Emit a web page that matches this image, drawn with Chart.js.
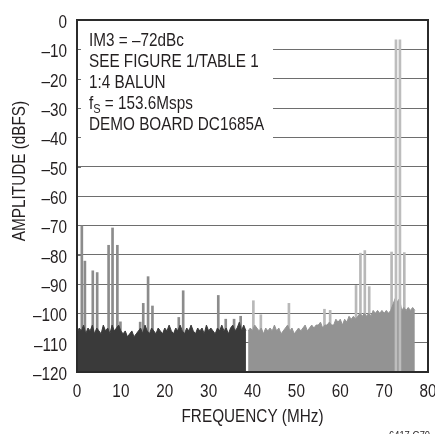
<!DOCTYPE html>
<html>
<head>
<meta charset="utf-8">
<script src="https://cdn.jsdelivr.net/npm/chart.js@4/dist/chart.umd.min.js"></script>
<style>
  html, body { margin: 0; padding: 0; background: #fff; }
  #wrap { position: relative; width: 435px; height: 434px; }
</style>
</head>
<body>
<div id="wrap"><canvas id="c" width="435" height="434"></canvas></div>
<script>
// ---- data ----
const NOISE_BIN_MHZ = 0.5;
const darkNoiseStartMHz = 0;     // first bin of the dark noise floor
const darkNoise = [
  -107,-105,-106,-104,-107,-105,-106,-104,-107,-105,
  -106,-107,-104,-106,-105,-107,-104,-106,-105,-104,
  -106,-107,-106,-108,-107,-106,-108,-107,-106,-105,
  -107,-104,-106,-107,-105,-106,-107,-105,-106,-107,
  -105,-106,-104,-106,-107,-105,-106,-104,-106,-107,
  -105,-106,-104,-106,-107,-105,-106,-105,-107,-104,
  -106,-105,-106,-107,-105,-106,-104,-106,-105,-107,
  -105,-104,-106,-105,-103,-106,-104,-106
];
const grayNoiseStartMHz = 39;
const grayNoise = [
  -106,-105,-106,-104,-105,-106,-105,-107,-105,-106,
  -105,-106,-104,-106,-105,-107,-106,-105,-104,-106,
  -105,-107,-106,-105,-106,-105,-104,-106,-105,-104,
  -105,-104,-104,-103,-105,-104,-104,-103,-104,-104,
  -102,-103,-102,-104,-102,-103,-101,-102,-101,-102,
  -101,-100,-101,-100,-101,-100,-101,-99,-100,-99,
  -100,-99,-100,-99,-100,-99,-97,-95,-96,-95,
  -99,-98,-99,-98,-99,-98,-99
];
const spurFreqMHz = [1.1,1.8,3.6,4.6,7.2,8.1,9.2,9.9,14.4,15.1,16.2,17.2,23.2,24.2,32.2,33.9,35.8,37.3,
                     40.2,41.9,48.3,56.4,57.7,63.6,64.6,65.6,66.6,71.7,74.6];
const spurLevelDBFS = [-70.2,-82.2,-85.5,-86.1,-76.8,-70.9,-76.8,-102.9,-103,-96.6,-87.5,-97.5,-101.4,-92.3,-93.9,-102,-102,-101,
                       -95.7,-100.5,-96.6,-98.6,-99,-90.5,-79.5,-78.6,-90.9,-79.1,-79.3];
const toneFreqMHz = [72.7, 73.6];
const toneLevelDBFS = [-6.8, -6.8];
const xTicks = [0,10,20,30,40,50,60,70,80];
const yTicks = [0,-10,-20,-30,-40,-50,-60,-70,-80,-90,-100,-110,-120];
const noteLines = ["IM3 = \u201372dBc", "SEE FIGURE 1/TABLE 1", "1:4 BALUN", "fS = 153.6Msps", "DEMO BOARD DC1685A"];
const xTitle = "FREQUENCY (MHz)";
const yTitle = "AMPLITUDE (dBFS)";
const figId = "6417 G70";

// ---- build ----
const FONT = "'Liberation Sans',Arial,sans-serif";
const NARROW = 0.85;     // Helvetica Narrow look
const INK = '#231f20';
const toXY = (start, arr) => arr.map((v, i) => ({ x: start + i * NOISE_BIN_MHZ, y: v }));
const pairs = (xs, ys) => xs.map((x, i) => ({ x: x, y: ys[i] }));
const dash = s => String(s).replace('-', '\u2013');

function narrowText(ctx, text, x, y, size, align) {
  ctx.save();
  ctx.translate(x, y);
  ctx.scale(NARROW, 1);
  ctx.font = size + 'px ' + FONT;
  ctx.textAlign = align || 'left';
  ctx.textBaseline = 'alphabetic';
  ctx.fillText(text, 0, 0);
  const w = ctx.measureText(text).width * NARROW;
  ctx.restore();
  return w;
}

const boxPlugin = {
  id: 'box',
  beforeDatasetsDraw(chart) {
    const { ctx, chartArea: a, scales: { y } } = chart;
    ctx.save();
    ctx.fillStyle = '#fff';
    ctx.fillRect(a.left + 1, a.top + 1, 273 - a.left - 1, y.getPixelForValue(-43) - a.top);
    ctx.strokeStyle = '#6e6e6e';
    ctx.lineWidth = 1;
    yTicks.forEach(v => {
      const py = Math.round(y.getPixelForValue(v)) + 0.5;
      ctx.beginPath(); ctx.moveTo(a.left, py); ctx.lineTo(a.left + 4, py); ctx.stroke();
    });
    ctx.fillStyle = INK;
    const x0 = 89, base0 = 46, step = 20.9;
    noteLines.forEach((t, i) => {
      const by = base0 + i * step;
      if (t.startsWith('fS')) {
        let cx = x0;
        cx += narrowText(ctx, 'f', cx, by, 18);
        cx += narrowText(ctx, 'S', cx, by + 4, 13);
        narrowText(ctx, t.slice(2), cx, by, 18);
      } else {
        narrowText(ctx, t, x0, by, 18);
      }
    });
    ctx.restore();
  },
  afterDatasetsDraw(chart) {
    const { ctx, chartArea: a } = chart;
    ctx.save();
    ctx.strokeStyle = '#2b2b2b';
    ctx.lineWidth = 2;
    ctx.strokeRect(a.left, a.top, a.right - a.left, a.bottom - a.top);
    ctx.restore();
  },
  afterDraw(chart) {
    const { ctx, chartArea: a, scales: { x, y } } = chart;
    ctx.save();
    ctx.fillStyle = INK;
    // tick labels placed by the library's scales
    yTicks.forEach(v => narrowText(ctx, dash(v), 67, y.getPixelForValue(v) + 8, 18, 'right'));
    xTicks.forEach(v => narrowText(ctx, String(v), x.getPixelForValue(v), 397, 18, 'center'));
    // axis titles
    narrowText(ctx, xTitle, (a.left + a.right) / 2, 422, 18, 'center');
    ctx.save();
    ctx.translate(25, 171);
    ctx.rotate(-Math.PI / 2);
    narrowText(ctx, yTitle, 0, 0, 18, 'center');
    ctx.restore();
    narrowText(ctx, figId, 389, 439, 11, 'left');
    ctx.restore();
  }
};

new Chart(document.getElementById('c'), {
  type: 'bar',
  data: {
    datasets: [
      { type: 'bar', label: 'tones', data: pairs(toneFreqMHz, toneLevelDBFS), base: -120,
        backgroundColor: '#bdbdbd', barThickness: 2, grouped: false, order: 0 },
      { type: 'line', label: 'noise2', data: toXY(grayNoiseStartMHz, grayNoise), fill: 'start',
        backgroundColor: '#939393', borderColor: '#939393', borderWidth: 1, pointRadius: 0, tension: 0, order: 1 },
      { type: 'line', label: 'noise1', data: toXY(darkNoiseStartMHz, darkNoise), fill: 'start',
        backgroundColor: '#3a3a3a', borderColor: '#3a3a3a', borderWidth: 1, pointRadius: 0, tension: 0, order: 2 },
      { type: 'bar', label: 'spurs', data: pairs(spurFreqMHz, spurLevelDBFS), base: -120,
        backgroundColor: c => (c.raw && c.raw.x < grayNoiseStartMHz) ? '#8c8c8c' : '#b8b8b8',
        barThickness: 2, grouped: false, order: 3 }
    ]
  },
  options: {
    responsive: false,
    animation: false,
    devicePixelRatio: 1,
    layout: { padding: { left: 0, top: 20, right: 7, bottom: 0 }, autoPadding: false },
    plugins: { legend: { display: false }, tooltip: { enabled: false }, title: { display: false } },
    scales: {
      x: {
        type: 'linear', min: 0, max: 80, offset: false,
        afterFit: s => { s.height = 62; },
        afterBuildTicks: s => { s.ticks = xTicks.map(v => ({ value: v })); },
        grid: { display: false },
        border: { display: false },
        ticks: { display: false }
      },
      y: {
        type: 'linear', min: -120, max: 0,
        afterFit: s => { s.width = 77; },
        afterBuildTicks: s => { s.ticks = yTicks.map(v => ({ value: v })); },
        grid: { color: '#6e6e6e', lineWidth: 1, drawTicks: false },
        border: { display: false },
        ticks: { display: false }
      }
    }
  },
  plugins: [boxPlugin]
});
</script>
</body>
</html>
